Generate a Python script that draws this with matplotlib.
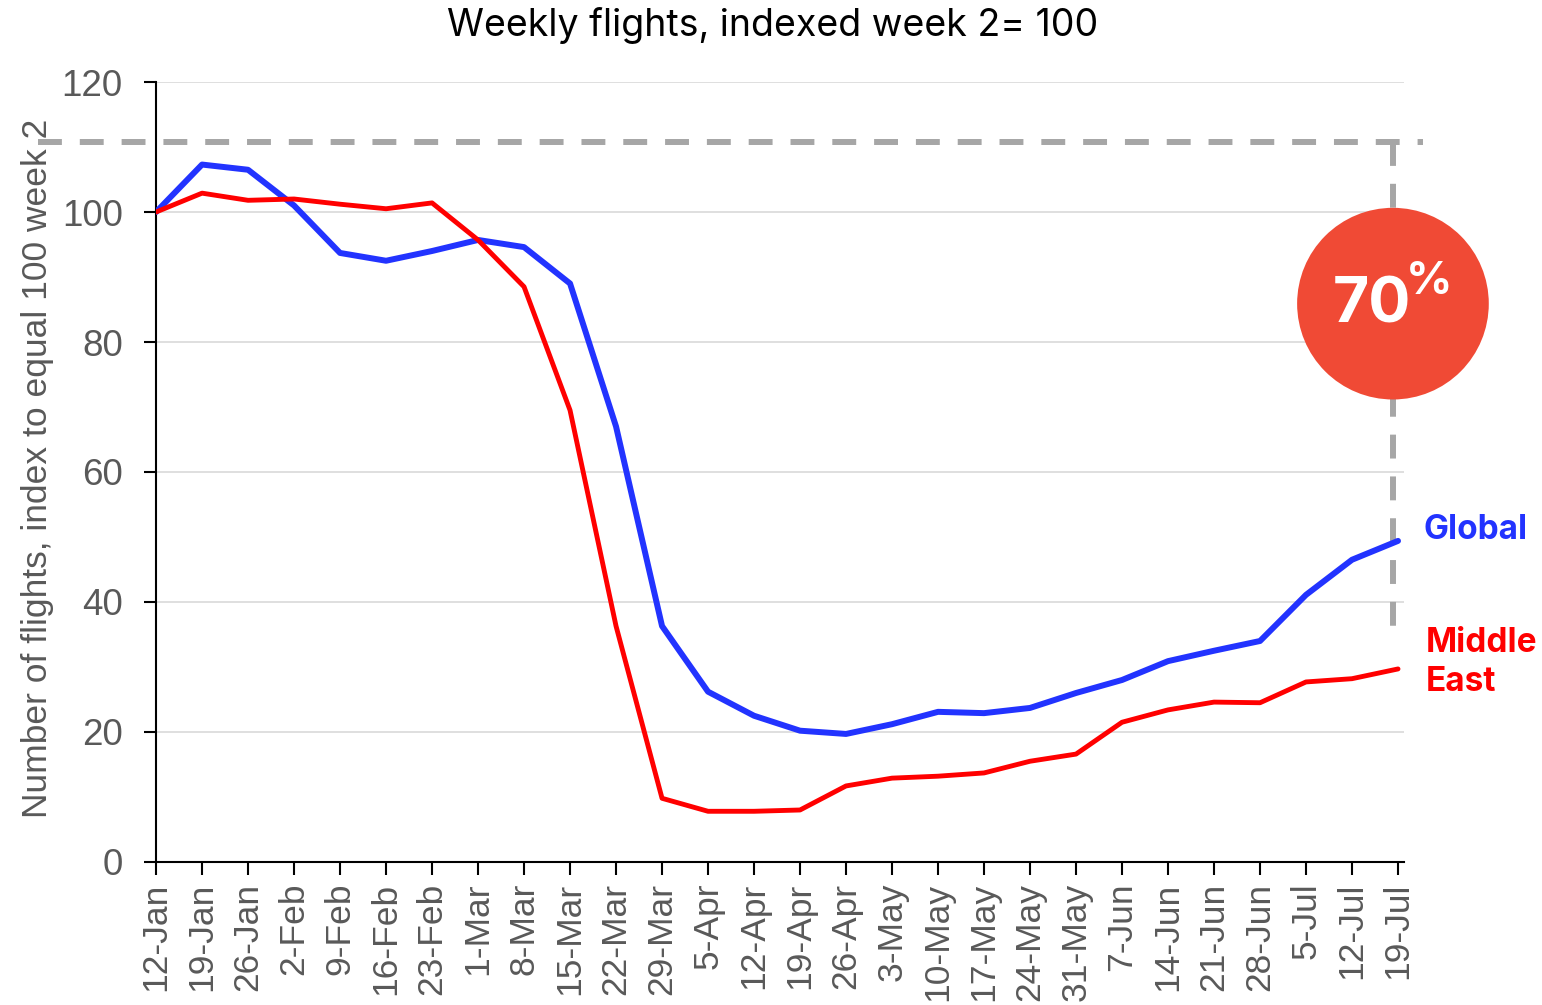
import matplotlib
matplotlib.use("Agg")
import matplotlib.pyplot as plt

weeks = ['12-Jan', '19-Jan', '26-Jan', '2-Feb', '9-Feb', '16-Feb', '23-Feb',
         '1-Mar', '8-Mar', '15-Mar', '22-Mar', '29-Mar', '5-Apr', '12-Apr',
         '19-Apr', '26-Apr', '3-May', '10-May', '17-May', '24-May', '31-May',
         '7-Jun', '14-Jun', '21-Jun', '28-Jun', '5-Jul', '12-Jul', '19-Jul']

global_idx = [100, 107.3, 106.5, 101, 93.7, 92.5, 94, 95.7, 94.6, 89, 67,
              36.3, 26.2, 22.5, 20.2, 19.7, 21.2, 23.1, 22.9, 23.7, 26, 28,
              30.9, 32.5, 34, 41.1, 46.5, 49.4]

mideast_idx = [100, 102.9, 101.8, 102, 101.2, 100.5, 101.4, 95.7, 88.5, 69.5,
               36.3, 9.8, 7.8, 7.8, 8, 11.7, 12.9, 13.2, 13.7, 15.5, 16.6,
               21.5, 23.4, 24.6, 24.5, 27.7, 28.2, 29.7]

recovery_level = 110.8
gap_label = '70'

BLUE = '#2233FF'
RED = '#FF0000'
GREY = '#595959'
DASH = '#A6A6A6'

plt.rcParams['font.family'] = ['Liberation Sans', 'DejaVu Sans']

fig = plt.figure(figsize=(15.42, 10.05), dpi=100)
ax = fig.add_axes([0.1012, 0.1423, 0.8093, 0.7761])

x = list(range(len(weeks)))
ax.plot(x, global_idx, color=BLUE, lw=4.3, solid_capstyle='round', zorder=4)
ax.plot(x, mideast_idx, color=RED, lw=3.5, solid_capstyle='round', zorder=4)

ax.set_xlim(0, 27.13)
ax.set_ylim(0, 120)
ax.set_yticks(range(0, 121, 20))
ax.set_xticks(x)
ax.set_xticklabels(weeks, rotation=90, fontsize=25.5, color=GREY)
ax.tick_params(axis='y', labelsize=26.5, labelcolor=GREY, length=9, width=1.5,
               direction='out', pad=15)
ax.tick_params(axis='x', length=9, width=1.5, direction='out', pad=6)

for s in ['top', 'right']:
    ax.spines[s].set_visible(False)
for s in ['left', 'bottom']:
    ax.spines[s].set_linewidth(1.5)
    ax.spines[s].set_color('black')

ax.yaxis.grid(True, color='#D9D9D9', lw=1.2)
ax.set_axisbelow(True)

ax.set_ylabel('Number of flights, index to equal 100 week 2', fontsize=25.5,
              color=GREY)
ax.yaxis.set_label_coords(-0.082, 0.505)

fig.text(0.501, 0.975, 'Weekly flights, indexed week 2= 100', ha='center',
         va='center', fontsize=27, family='Inter', color='black')

# dashed recovery marker
vx = 26.89
ax.plot([-2.57, vx + 0.65], [recovery_level, recovery_level], color=DASH,
        lw=4.3, dashes=(4, 3), clip_on=False, zorder=2)
ax.plot([vx, vx], [recovery_level, 35.7], color=DASH, lw=4.3,
        dashes=(4, 3), clip_on=False, zorder=2)

ax.scatter([vx], [85.9], s=138 ** 2, color='#F04A35', edgecolors='none',
           zorder=5, clip_on=False)
ax.text(vx + 0.4, 85.6, gap_label, ha='right', va='center', fontsize=45,
        color='white', weight='bold', family='Inter', zorder=6)
ax.text(vx + 0.28, 89.3, '%', ha='left', va='center', fontsize=33,
        color='white', weight='bold', family='Inter', zorder=6)

ax.text(27.55, global_idx[-1] + 1.6, 'Global', ha='left', va='center',
        fontsize=24, color=BLUE, weight='bold', family='Inter')
ax.text(27.6, mideast_idx[-1] + 1.0, 'Middle\nEast', ha='left', va='center',
        fontsize=24, color=RED, weight='bold', family='Inter', linespacing=1.25)

fig.savefig('out.png', dpi=100)
